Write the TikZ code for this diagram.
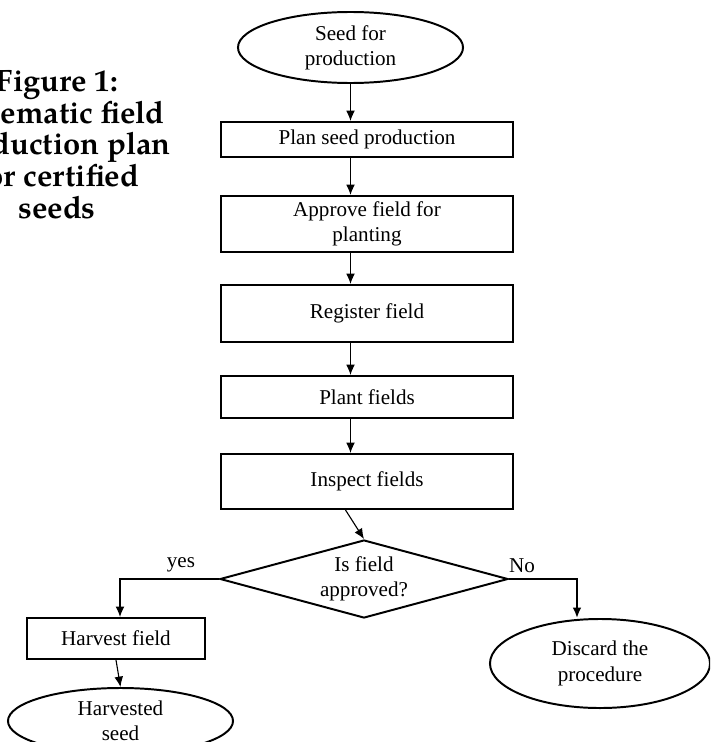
\documentclass[tikz,border=0pt]{standalone}
\usepackage{fontspec}
\setmainfont{Liberation Serif}
\newfontfamily\captionfont{texgyrepagella-bold.otf}
\usetikzlibrary{shapes.geometric}
\usetikzlibrary{arrows.meta}

\begin{document}
\begin{tikzpicture}[x=0.025cm, y=-0.025cm, >={Latex[length=2.6mm,width=2.2mm]},
    font=\fontsize{15}{18}\selectfont,
    stepbox/.style={draw=black, line width=1.4pt, rectangle, inner sep=0pt,
      minimum width=7.3cm, align=center},
    terminal/.style={draw=black, line width=1.4pt, ellipse, inner sep=0pt,
      align=center},
    flow/.style={->, line width=0.8pt}]
      \clip (0,0) rectangle (710,742);

      \node [anchor=north, inner sep=0pt, align=center,
        font=\captionfont\fontsize{22}{22.6}\selectfont, name=cap] at (57,70)
      {Figure 1:\\Schematic field\\production plan\\for certified\\seeds};

      \node [terminal, minimum width=5.625cm, minimum height=1.775cm, name=seed]
      at (350.5,47.5) {Seed for\\production};
      \node [stepbox, minimum height=0.875cm, name=plan] at (367,139.5)
      {Plan seed production};
      \node [stepbox, minimum height=1.4cm, name=approve] at (367,224)
      {Approve field for\\planting};
      \node [stepbox, minimum height=1.425cm, name=register] at (367,313.5)
      {Register field};
      \node [stepbox, minimum height=1.05cm, name=plant] at (367,397)
      {Plant fields};
      \node [stepbox, minimum height=1.375cm, name=inspect] at (367,481.5)
      {Inspect fields};
      \node [draw=black, line width=1.4pt, diamond, aspect=3.69, inner sep=0pt,
        minimum width=7.2cm, minimum height=1.95cm, align=center, name=check]
      at (364,579) {Is field\\approved?};

      \node [stepbox, minimum width=4.45cm, minimum height=1.025cm, name=harvest]
      at (116,638.5) {Harvest field};
      \node [terminal, minimum width=5.625cm, minimum height=1.65cm, name=crop]
      at (120.5,721) {Harvested\\seed};
      \node [terminal, minimum width=5.5cm, minimum height=2.225cm, name=discard]
      at (600,663.5) {Discard the\\procedure};

      \node [name=yes] at (181,565) {yes};
      \node [name=no] at (522,566) {No};

      \draw [flow] (seed.south) -- (seed.south |- plan.north);
      \draw [flow] (plan.south -| seed) -- (approve.north -| seed);
      \draw [flow] (approve.south -| seed) -- (register.north -| seed);
      \draw [flow] (register.south -| seed) -- (plant.north -| seed);
      \draw [flow] (plant.south -| seed) -- (inspect.north -| seed);
      \draw [flow] ([xshift=-0.125cm]inspect.south -| seed) -- (check.north);
      \draw [flow] (check.west) -| ([xshift=0.1cm]harvest.north);
      \draw [flow, line width=1.4pt] (check.east) -| ([xshift=-0.575cm]discard.north);
      \draw [flow] (harvest.south) -- (crop.north);
    \end{tikzpicture}
\end{document}
